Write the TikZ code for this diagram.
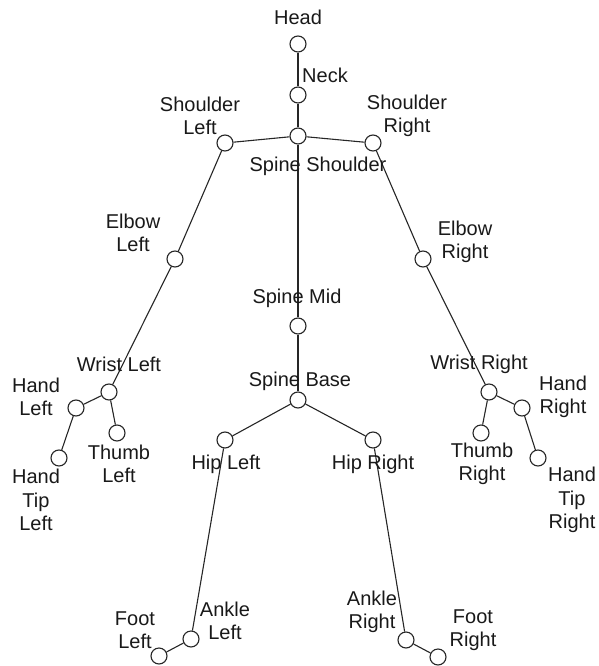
\documentclass[tikz,border=0pt]{standalone}
\usepackage{fontspec}
\setmainfont{Liberation Sans}
\begin{document}
\begin{tikzpicture}[x=1pt,y=-1pt,
  joint/.style={circle,draw=black!85,fill=white,line width=1.1pt,minimum size=16pt,inner sep=0pt},
  bone/.style={draw=black!85,line width=1.1pt},
  lbl/.style={align=center,inner sep=0pt,font=\fontsize{20}{23.5}\selectfont,text=black!90}]
\useasboundingbox (0,0) rectangle (598,666);

% joints
\node[joint] (head)  at (298,44) {};
\node[joint] (neck)  at (298,95) {};
\node[joint] (ss)    at (298,136) {};
\node[joint] (shl)   at (225,143) {};
\node[joint] (shr)   at (373,143) {};
\node[joint] (elbl)  at (175,259) {};
\node[joint] (elbr)  at (423,259) {};
\node[joint] (smid)  at (298,326) {};
\node[joint] (sbase) at (298,400) {};
\node[joint] (wrl)   at (109,392) {};
\node[joint] (hdl)   at (76,408) {};
\node[joint] (thl)   at (117,433) {};
\node[joint] (htl)   at (59,458) {};
\node[joint] (wrr)   at (489,392) {};
\node[joint] (hdr)   at (522,408) {};
\node[joint] (thr)   at (481,433) {};
\node[joint] (htr)   at (538,458) {};
\node[joint] (hipl)  at (225,440) {};
\node[joint] (hipr)  at (373,440) {};
\node[joint] (ankl)  at (191,639) {};
\node[joint] (ftl)   at (159,656) {};
\node[joint] (ankr)  at (406,640) {};
\node[joint] (ftr)   at (438,657) {};

% bones
\draw[bone] (head) -- (neck);
\draw[bone] (neck) -- (ss);
\draw[bone] (ss) -- (shl);
\draw[bone] (ss) -- (shr);
\draw[bone] (ss) -- (smid);
\draw[bone] (smid) -- (sbase);
\draw[bone] (shl) -- (elbl);
\draw[bone] (elbl) -- (wrl);
\draw[bone] (wrl) -- (hdl);
\draw[bone] (hdl) -- (htl);
\draw[bone] (wrl) -- (thl);
\draw[bone] (shr) -- (elbr);
\draw[bone] (elbr) -- (wrr);
\draw[bone] (wrr) -- (hdr);
\draw[bone] (hdr) -- (htr);
\draw[bone] (wrr) -- (thr);
\draw[bone] (sbase) -- (hipl);
\draw[bone] (sbase) -- (hipr);
\draw[bone] (hipl) -- (ankl);
\draw[bone] (ankl) -- (ftl);
\draw[bone] (hipr) -- (ankr);
\draw[bone] (ankr) -- (ftr);

% labels
\node[lbl] (tHead)  at (298,17)  {Head};
\node[lbl] (tNeck)  at (325,75)  {Neck};
\node[lbl] (tShL)   at (200,116) {Shoulder\\Left};
\node[lbl] (tShR)   at (407,116) {Shoulder\\Right};
\node[lbl] (tSS)    at (318,166) {Spine Shoulder};
\node[lbl] (tElL)   at (133,233) {Elbow\\Left};
\node[lbl] (tElR)   at (465,242) {Elbow\\Right};
\node[lbl] (tSM)    at (297,298) {Spine Mid};
\node[lbl] (tSB)    at (300,381) {Spine Base};
\node[lbl] (tWrL)   at (119,364) {Wrist Left};
\node[lbl] (tHdL)   at (36,397)  {Hand\\Left};
\node[lbl] (tThL)   at (119,464) {Thumb\\Left};
\node[lbl] (tHtL)   at (36,500)  {Hand\\Tip\\Left};
\node[lbl] (tWrR)   at (479,364) {Wrist Right};
\node[lbl] (tHdR)   at (563,397) {Hand\\Right};
\node[lbl] (tThR)   at (482,464) {Thumb\\Right};
\node[lbl] (tHtR)   at (572,500) {Hand\\Tip\\Right};
\node[lbl] (tHipL)  at (226,464) {Hip Left};
\node[lbl] (tHipR)  at (373,464) {Hip Right};
\node[lbl] (tAnkL)  at (225,621) {Ankle\\Left};
\node[lbl] (tFtL)   at (135,630) {Foot\\Left};
\node[lbl] (tAnkR)  at (372,612) {Ankle\\Right};
\node[lbl] (tFtR)   at (473,630) {Foot\\Right};
\end{tikzpicture}
\end{document}
